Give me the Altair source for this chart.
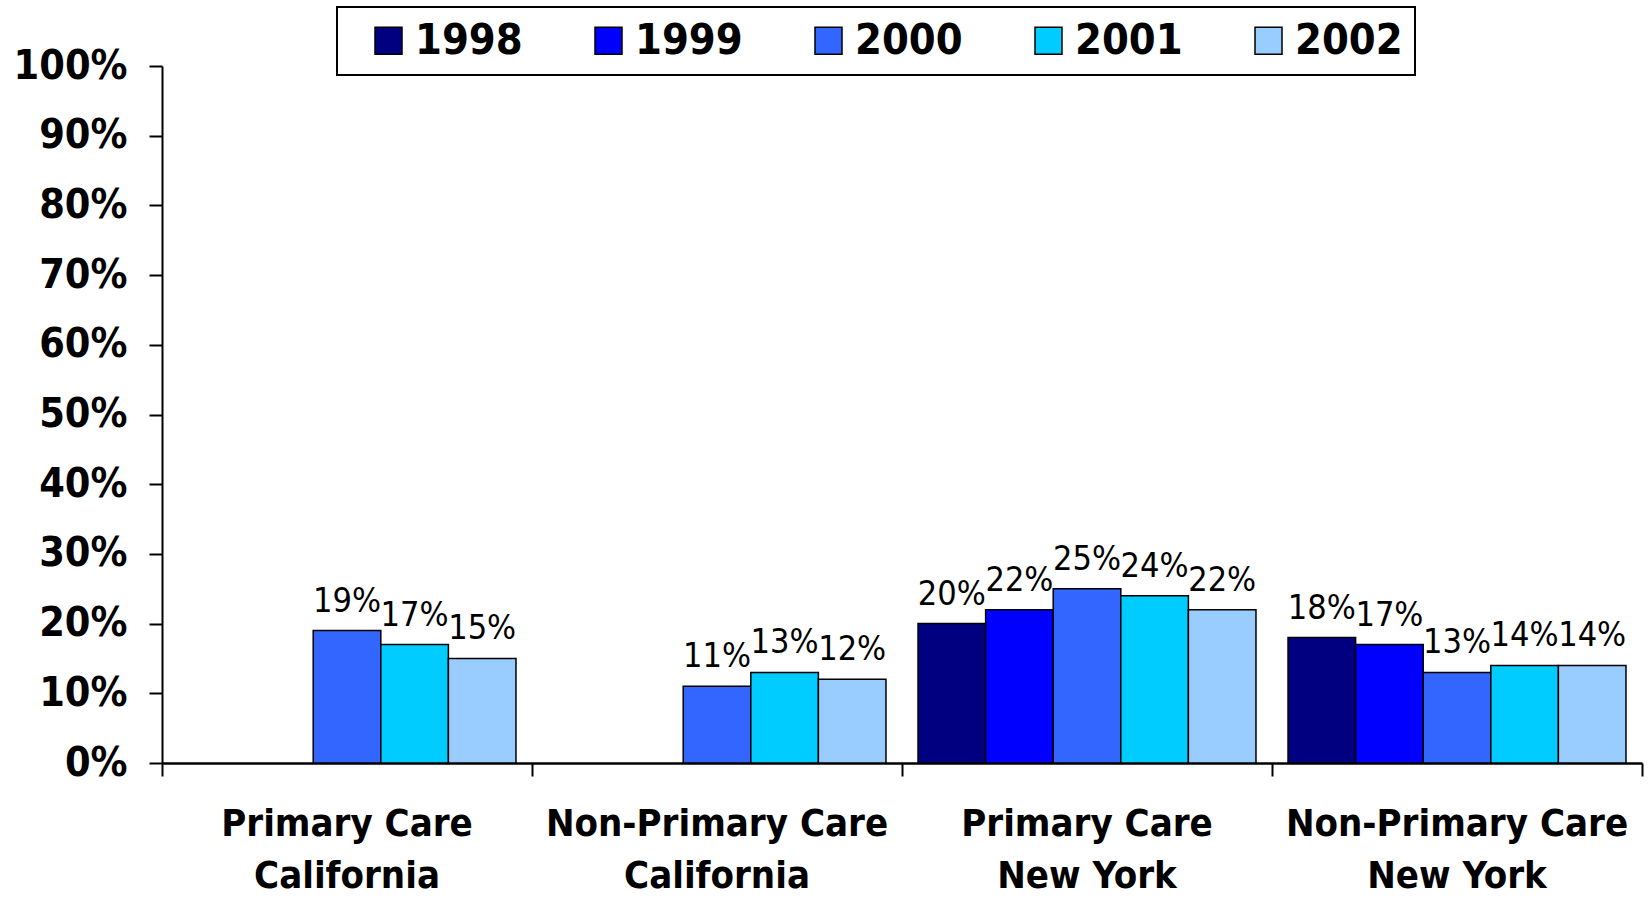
import altair as alt
import pandas as pd

# Category labels ("|" splits each label onto two lines)
groups = [
    "Primary Care|California",
    "Non-Primary Care|California",
    "Primary Care|New York",
    "Non-Primary Care|New York",
]
years = ["1998", "1999", "2000", "2001", "2002"]
colors = ["#000080", "#0000FF", "#3366FF", "#00CCFF", "#99CCFF"]

# Share per year for each group (None = not surveyed that year)
primary_ca = [None, None, 0.19, 0.17, 0.15]
nonprimary_ca = [None, None, 0.11, 0.13, 0.12]
primary_ny = [0.20, 0.22, 0.25, 0.24, 0.22]
nonprimary_ny = [0.18, 0.17, 0.13, 0.14, 0.14]

y_ticks = [0, 0.1, 0.2, 0.3, 0.4, 0.5, 0.6, 0.7, 0.8, 0.9, 1.0]

rows = []
for g, vals in zip(groups, [primary_ca, nonprimary_ca, primary_ny, nonprimary_ny]):
    for yr, v in zip(years, vals):
        if v is not None:
            rows.append({"group": g, "year": yr, "share": v})
df = pd.DataFrame(rows)

FONT = "DejaVu Sans Condensed, Liberation Sans Narrow, Liberation Sans, sans-serif"

x_enc = alt.X(
    "group:N",
    sort=groups,
    scale=alt.Scale(domain=groups, paddingInner=0, paddingOuter=0),
    axis=alt.Axis(
        title=None,
        labelExpr="split(datum.label, '|')",
        labelAngle=0,
        labelFont=FONT,
        labelFontSize=38,
        labelFontWeight="bold",
        labelColor="black",
        labelLineHeight=52,
        labelPadding=29,
        labelBaseline="top",
        labelLimit=0,
        bandPosition=1,
        tickExtra=True,
        tickSize=13,
        tickWidth=2,
        tickColor="black",
        domainColor="black",
        domainWidth=2.5,
        grid=False,
    ),
)

xoff_enc = alt.XOffset(
    "year:N",
    scale=alt.Scale(domain=years, paddingInner=0, paddingOuter=0.237),
)

y_enc = alt.Y(
    "share:Q",
    scale=alt.Scale(domain=[0, 1], nice=False),
    axis=alt.Axis(
        title=None,
        values=y_ticks,
        format=".0%",
        grid=False,
        labelFont=FONT,
        labelFontSize=41,
        labelFontWeight="bold",
        labelColor="black",
        labelPadding=22,
        tickSize=13,
        tickWidth=2,
        tickColor="black",
        domainColor="black",
        domainWidth=2,
    ),
)

bars = alt.Chart(df).mark_bar(stroke="black", strokeWidth=1.5).encode(
    x=x_enc,
    xOffset=xoff_enc,
    y=y_enc,
    color=alt.Color(
        "year:N",
        scale=alt.Scale(domain=years, range=colors),
        legend=alt.Legend(
            title=None,
            orient="none",
            legendX=175,
            legendY=-59,
            direction="horizontal",
            columns=5,
        ),
    ),
)

labels = alt.Chart(df).mark_text(
    baseline="alphabetic",
    dy=-19,
    fontSize=34,
    font=FONT,
    color="black",
).encode(
    x=alt.X("group:N", sort=groups),
    xOffset=alt.XOffset("year:N"),
    y=alt.Y("share:Q"),
    text=alt.Text("share:Q", format=".0%"),
)

chart = (
    alt.layer(bars, labels)
    .properties(
        width=1480,
        height=697,
        autosize=alt.AutoSizeParams(type="none"),
        padding={"left": 162, "top": 66, "right": 7, "bottom": 137},
    )
    .configure_view(stroke=None)
    .configure_legend(
        symbolType="square",
        symbolSize=729,
        symbolStrokeColor="black",
        symbolStrokeWidth=1.5,
        symbolOffset=18,
        labelFont=FONT,
        labelFontSize=43,
        labelFontWeight="bold",
        labelColor="black",
        labelOffset=5,
        labelLimit=0,
        columnPadding=46,
        padding=12,
        strokeColor="black",
        strokeWidth=2,
        fillColor="white",
    )
)

chart.save("out.html", embed_options={"renderer": "svg", "actions": False})
